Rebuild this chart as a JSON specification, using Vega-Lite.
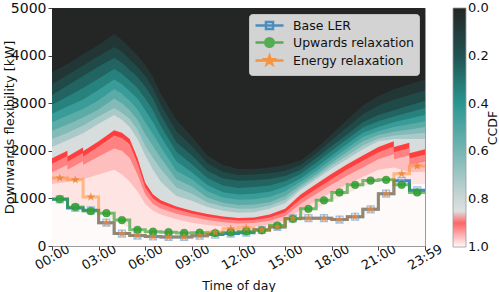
{
"$schema": "https://vega.github.io/schema/vega-lite/v6.json",
"width": 373, "height": 238,
"autosize": {"type": "none"},
"padding": {"left": 52, "top": 8, "right": 74, "bottom": 46},
"background": "white",
"config": {
  "font": "DejaVu Sans",
  "view": {"stroke": "#9a9a9a", "strokeWidth": 1},
  "axis": {"grid": false, "domain": false, "tickColor": "#444", "tickSize": 4, "labelColor": "#111", "titleColor": "#111", "labelFont": "DejaVu Sans", "titleFont": "DejaVu Sans", "labelFontSize": 13, "titleFontSize": 12.5, "titleFontWeight": "normal"},
  "legend": {"labelFont": "DejaVu Sans", "titleFont": "DejaVu Sans", "labelColor": "#111", "titleColor": "#111", "titleFontWeight": "normal"}
},
"datasets": {
"heat": [
{"c":0,"t":0,"y":5000},{"c":0,"t":24,"y":5000},
{"c":0.07,"t":0,"y":3650},{"c":0.07,"t":1,"y":3830},{"c":0.07,"t":2,"y":4030},{"c":0.07,"t":3,"y":4230},{"c":0.07,"t":4,"y":4450},{"c":0.07,"t":4.5,"y":4330},{"c":0.07,"t":5,"y":4170},{"c":0.07,"t":5.5,"y":4000},{"c":0.07,"t":6,"y":3800},{"c":0.07,"t":6.5,"y":3550},{"c":0.07,"t":7,"y":3200},{"c":0.07,"t":8,"y":2650},{"c":0.07,"t":9,"y":2300},{"c":0.07,"t":10,"y":1900},{"c":0.07,"t":11,"y":1700},{"c":0.07,"t":12,"y":1620},{"c":0.07,"t":13,"y":1620},{"c":0.07,"t":14,"y":1650},{"c":0.07,"t":15,"y":1700},{"c":0.07,"t":16,"y":1800},{"c":0.07,"t":17,"y":2050},{"c":0.07,"t":18,"y":2350},{"c":0.07,"t":19,"y":2650},{"c":0.07,"t":20,"y":2950},{"c":0.07,"t":21,"y":3150},{"c":0.07,"t":22,"y":3300},{"c":0.07,"t":23,"y":3400},{"c":0.07,"t":24,"y":3500},
{"c":0.16,"t":0,"y":3400},{"c":0.16,"t":1,"y":3590},{"c":0.16,"t":2,"y":3790},{"c":0.16,"t":3,"y":3990},{"c":0.16,"t":4,"y":4180},{"c":0.16,"t":4.5,"y":4080},{"c":0.16,"t":5,"y":3920},{"c":0.16,"t":5.5,"y":3760},{"c":0.16,"t":6,"y":3570},{"c":0.16,"t":6.5,"y":3320},{"c":0.16,"t":7,"y":2970},{"c":0.16,"t":8,"y":2410},{"c":0.16,"t":9,"y":2100},{"c":0.16,"t":10,"y":1740},{"c":0.16,"t":11,"y":1560},{"c":0.16,"t":12,"y":1490},{"c":0.16,"t":13,"y":1500},{"c":0.16,"t":14,"y":1530},{"c":0.16,"t":15,"y":1580},{"c":0.16,"t":16,"y":1700},{"c":0.16,"t":17,"y":1950},{"c":0.16,"t":18,"y":2220},{"c":0.16,"t":19,"y":2500},{"c":0.16,"t":20,"y":2770},{"c":0.16,"t":21,"y":2950},{"c":0.16,"t":22,"y":3070},{"c":0.16,"t":23,"y":3170},{"c":0.16,"t":24,"y":3270},
{"c":0.25,"t":0,"y":3170},{"c":0.25,"t":1,"y":3370},{"c":0.25,"t":2,"y":3570},{"c":0.25,"t":3,"y":3770},{"c":0.25,"t":4,"y":3950},{"c":0.25,"t":4.5,"y":3850},{"c":0.25,"t":5,"y":3700},{"c":0.25,"t":5.5,"y":3550},{"c":0.25,"t":6,"y":3350},{"c":0.25,"t":6.5,"y":3100},{"c":0.25,"t":7,"y":2750},{"c":0.25,"t":8,"y":2180},{"c":0.25,"t":9,"y":1900},{"c":0.25,"t":10,"y":1580},{"c":0.25,"t":11,"y":1420},{"c":0.25,"t":12,"y":1370},{"c":0.25,"t":13,"y":1380},{"c":0.25,"t":14,"y":1410},{"c":0.25,"t":15,"y":1470},{"c":0.25,"t":16,"y":1600},{"c":0.25,"t":17,"y":1850},{"c":0.25,"t":18,"y":2100},{"c":0.25,"t":19,"y":2350},{"c":0.25,"t":20,"y":2600},{"c":0.25,"t":21,"y":2750},{"c":0.25,"t":22,"y":2850},{"c":0.25,"t":23,"y":2950},{"c":0.25,"t":24,"y":3050},
{"c":0.34,"t":0,"y":2970},{"c":0.34,"t":1,"y":3140},{"c":0.34,"t":2,"y":3320},{"c":0.34,"t":3,"y":3520},{"c":0.34,"t":4,"y":3720},{"c":0.34,"t":4.5,"y":3620},{"c":0.34,"t":5,"y":3470},{"c":0.34,"t":5.5,"y":3320},{"c":0.34,"t":6,"y":3100},{"c":0.34,"t":6.5,"y":2850},{"c":0.34,"t":7,"y":2520},{"c":0.34,"t":8,"y":1980},{"c":0.34,"t":9,"y":1720},{"c":0.34,"t":10,"y":1430},{"c":0.34,"t":11,"y":1270},{"c":0.34,"t":12,"y":1220},{"c":0.34,"t":13,"y":1240},{"c":0.34,"t":14,"y":1270},{"c":0.34,"t":15,"y":1360},{"c":0.34,"t":16,"y":1510},{"c":0.34,"t":17,"y":1750},{"c":0.34,"t":18,"y":2000},{"c":0.34,"t":19,"y":2250},{"c":0.34,"t":20,"y":2490},{"c":0.34,"t":21,"y":2620},{"c":0.34,"t":22,"y":2720},{"c":0.34,"t":23,"y":2810},{"c":0.34,"t":24,"y":2900},
{"c":0.44,"t":0,"y":2780},{"c":0.44,"t":1,"y":2930},{"c":0.44,"t":2,"y":3080},{"c":0.44,"t":3,"y":3280},{"c":0.44,"t":4,"y":3500},{"c":0.44,"t":4.5,"y":3400},{"c":0.44,"t":5,"y":3250},{"c":0.44,"t":5.5,"y":3100},{"c":0.44,"t":6,"y":2850},{"c":0.44,"t":6.5,"y":2600},{"c":0.44,"t":7,"y":2300},{"c":0.44,"t":8,"y":1780},{"c":0.44,"t":9,"y":1550},{"c":0.44,"t":10,"y":1280},{"c":0.44,"t":11,"y":1130},{"c":0.44,"t":12,"y":1080},{"c":0.44,"t":13,"y":1100},{"c":0.44,"t":14,"y":1140},{"c":0.44,"t":15,"y":1250},{"c":0.44,"t":16,"y":1420},{"c":0.44,"t":17,"y":1650},{"c":0.44,"t":18,"y":1900},{"c":0.44,"t":19,"y":2150},{"c":0.44,"t":20,"y":2380},{"c":0.44,"t":21,"y":2500},{"c":0.44,"t":22,"y":2600},{"c":0.44,"t":23,"y":2680},{"c":0.44,"t":24,"y":2750},
{"c":0.53,"t":0,"y":2600},{"c":0.53,"t":1,"y":2740},{"c":0.53,"t":2,"y":2880},{"c":0.53,"t":3,"y":3060},{"c":0.53,"t":4,"y":3300},{"c":0.53,"t":4.5,"y":3200},{"c":0.53,"t":5,"y":3050},{"c":0.53,"t":5.5,"y":2870},{"c":0.53,"t":6,"y":2600},{"c":0.53,"t":6.5,"y":2350},{"c":0.53,"t":7,"y":2080},{"c":0.53,"t":8,"y":1580},{"c":0.53,"t":9,"y":1400},{"c":0.53,"t":10,"y":1150},{"c":0.53,"t":11,"y":1020},{"c":0.53,"t":12,"y":970},{"c":0.53,"t":13,"y":980},{"c":0.53,"t":14,"y":1030},{"c":0.53,"t":15,"y":1150},{"c":0.53,"t":16,"y":1350},{"c":0.53,"t":17,"y":1570},{"c":0.53,"t":18,"y":1820},{"c":0.53,"t":19,"y":2060},{"c":0.53,"t":20,"y":2290},{"c":0.53,"t":21,"y":2410},{"c":0.53,"t":22,"y":2500},{"c":0.53,"t":23,"y":2560},{"c":0.53,"t":24,"y":2620},
{"c":0.63,"t":0,"y":2420},{"c":0.63,"t":1,"y":2550},{"c":0.63,"t":2,"y":2700},{"c":0.63,"t":3,"y":2870},{"c":0.63,"t":4,"y":3100},{"c":0.63,"t":4.5,"y":3000},{"c":0.63,"t":5,"y":2850},{"c":0.63,"t":5.5,"y":2650},{"c":0.63,"t":6,"y":2350},{"c":0.63,"t":6.5,"y":2100},{"c":0.63,"t":7,"y":1850},{"c":0.63,"t":8,"y":1400},{"c":0.63,"t":9,"y":1250},{"c":0.63,"t":10,"y":1020},{"c":0.63,"t":11,"y":910},{"c":0.63,"t":12,"y":860},{"c":0.63,"t":13,"y":870},{"c":0.63,"t":14,"y":920},{"c":0.63,"t":15,"y":1050},{"c":0.63,"t":16,"y":1280},{"c":0.63,"t":17,"y":1500},{"c":0.63,"t":18,"y":1750},{"c":0.63,"t":19,"y":1980},{"c":0.63,"t":20,"y":2200},{"c":0.63,"t":21,"y":2330},{"c":0.63,"t":22,"y":2400},{"c":0.63,"t":23,"y":2450},{"c":0.63,"t":24,"y":2500},
{"c":0.72,"t":0,"y":2250},{"c":0.72,"t":1,"y":2380},{"c":0.72,"t":2,"y":2530},{"c":0.72,"t":3,"y":2720},{"c":0.72,"t":4,"y":2900},{"c":0.72,"t":4.5,"y":2800},{"c":0.72,"t":5,"y":2670},{"c":0.72,"t":5.5,"y":2450},{"c":0.72,"t":6,"y":2100},{"c":0.72,"t":6.5,"y":1850},{"c":0.72,"t":7,"y":1620},{"c":0.72,"t":8,"y":1230},{"c":0.72,"t":9,"y":1100},{"c":0.72,"t":10,"y":920},{"c":0.72,"t":11,"y":830},{"c":0.72,"t":12,"y":780},{"c":0.72,"t":13,"y":790},{"c":0.72,"t":14,"y":850},{"c":0.72,"t":15,"y":970},{"c":0.72,"t":16,"y":1230},{"c":0.72,"t":17,"y":1450},{"c":0.72,"t":18,"y":1690},{"c":0.72,"t":19,"y":1900},{"c":0.72,"t":20,"y":2110},{"c":0.72,"t":21,"y":2260},{"c":0.72,"t":22,"y":2320},{"c":0.72,"t":23,"y":2350},{"c":0.72,"t":24,"y":2380},
{"c":0.83,"t":0,"y":2080},{"c":0.83,"t":1,"y":2220},{"c":0.83,"t":2,"y":2370},{"c":0.83,"t":3,"y":2570},{"c":0.83,"t":4,"y":2750},{"c":0.83,"t":4.5,"y":2650},{"c":0.83,"t":5,"y":2500},{"c":0.83,"t":5.5,"y":2250},{"c":0.83,"t":6,"y":1900},{"c":0.83,"t":6.5,"y":1600},{"c":0.83,"t":7,"y":1350},{"c":0.83,"t":8,"y":1050},{"c":0.83,"t":9,"y":950},{"c":0.83,"t":10,"y":820},{"c":0.83,"t":11,"y":740},{"c":0.83,"t":12,"y":700},{"c":0.83,"t":13,"y":710},{"c":0.83,"t":14,"y":780},{"c":0.83,"t":15,"y":900},{"c":0.83,"t":16,"y":1180},{"c":0.83,"t":17,"y":1400},{"c":0.83,"t":18,"y":1630},{"c":0.83,"t":19,"y":1830},{"c":0.83,"t":20,"y":2030},{"c":0.83,"t":21,"y":2200},{"c":0.83,"t":22,"y":2250},{"c":0.83,"t":23,"y":2250},{"c":0.83,"t":24,"y":2250},
{"c":0.875,"t":0,"y":1845},{"c":0.875,"t":0.99,"y":2000},{"c":0.875,"t":1,"y":1880},{"c":0.875,"t":1.99,"y":2070},{"c":0.875,"t":2,"y":1990},{"c":0.875,"t":3,"y":2200},{"c":0.875,"t":4,"y":2430},{"c":0.875,"t":4.5,"y":2380},{"c":0.875,"t":5,"y":2250},{"c":0.875,"t":5.5,"y":1850},{"c":0.875,"t":6,"y":1330},{"c":0.875,"t":6.5,"y":1080},{"c":0.875,"t":7,"y":960},{"c":0.875,"t":8,"y":830},{"c":0.875,"t":9,"y":740},{"c":0.875,"t":10,"y":670},{"c":0.875,"t":11,"y":620},{"c":0.875,"t":12,"y":590},{"c":0.875,"t":13,"y":600},{"c":0.875,"t":14,"y":660},{"c":0.875,"t":15,"y":780},{"c":0.875,"t":16,"y":1080},{"c":0.875,"t":17,"y":1300},{"c":0.875,"t":18,"y":1520},{"c":0.875,"t":19,"y":1720},{"c":0.875,"t":20,"y":1900},{"c":0.875,"t":21,"y":2080},{"c":0.875,"t":21.99,"y":2200},{"c":0.875,"t":22,"y":2080},{"c":0.875,"t":22.99,"y":2170},{"c":0.875,"t":23,"y":1950},{"c":0.875,"t":24,"y":2030},
{"c":0.92,"t":0,"y":1730},{"c":0.92,"t":0.99,"y":1890},{"c":0.92,"t":1,"y":1770},{"c":0.92,"t":1.99,"y":1960},{"c":0.92,"t":2,"y":1880},{"c":0.92,"t":3,"y":2090},{"c":0.92,"t":4,"y":2320},{"c":0.92,"t":4.5,"y":2270},{"c":0.92,"t":5,"y":2140},{"c":0.92,"t":5.5,"y":1740},{"c":0.92,"t":6,"y":1230},{"c":0.92,"t":6.5,"y":1000},{"c":0.92,"t":7,"y":890},{"c":0.92,"t":8,"y":770},{"c":0.92,"t":9,"y":685},{"c":0.92,"t":10,"y":615},{"c":0.92,"t":11,"y":565},{"c":0.92,"t":12,"y":535},{"c":0.92,"t":13,"y":545},{"c":0.92,"t":14,"y":600},{"c":0.92,"t":15,"y":710},{"c":0.92,"t":16,"y":990},{"c":0.92,"t":17,"y":1200},{"c":0.92,"t":18,"y":1410},{"c":0.92,"t":19,"y":1610},{"c":0.92,"t":20,"y":1790},{"c":0.92,"t":21,"y":1970},{"c":0.92,"t":21.99,"y":2090},{"c":0.92,"t":22,"y":1970},{"c":0.92,"t":22.99,"y":2060},{"c":0.92,"t":23,"y":1840},{"c":0.92,"t":24,"y":1920},
{"c":0.96,"t":0,"y":1550},{"c":0.96,"t":0.99,"y":1700},{"c":0.96,"t":1,"y":1600},{"c":0.96,"t":1.99,"y":1780},{"c":0.96,"t":2,"y":1700},{"c":0.96,"t":3,"y":1880},{"c":0.96,"t":4,"y":2050},{"c":0.96,"t":4.5,"y":2000},{"c":0.96,"t":5,"y":1850},{"c":0.96,"t":5.5,"y":1500},{"c":0.96,"t":6,"y":1080},{"c":0.96,"t":6.5,"y":880},{"c":0.96,"t":7,"y":790},{"c":0.96,"t":8,"y":680},{"c":0.96,"t":9,"y":610},{"c":0.96,"t":10,"y":545},{"c":0.96,"t":11,"y":500},{"c":0.96,"t":12,"y":475},{"c":0.96,"t":13,"y":485},{"c":0.96,"t":14,"y":530},{"c":0.96,"t":15,"y":630},{"c":0.96,"t":16,"y":890},{"c":0.96,"t":17,"y":1090},{"c":0.96,"t":18,"y":1290},{"c":0.96,"t":19,"y":1480},{"c":0.96,"t":20,"y":1650},{"c":0.96,"t":21,"y":1820},{"c":0.96,"t":21.99,"y":1930},{"c":0.96,"t":22,"y":1820},{"c":0.96,"t":22.99,"y":1900},{"c":0.96,"t":23,"y":1700},{"c":0.96,"t":24,"y":1770},
{"c":0.985,"t":0,"y":1300},{"c":0.985,"t":1,"y":1350},{"c":0.985,"t":2,"y":1400},{"c":0.985,"t":3,"y":1500},{"c":0.985,"t":4,"y":1600},{"c":0.985,"t":4.5,"y":1500},{"c":0.985,"t":5,"y":1350},{"c":0.985,"t":5.5,"y":1150},{"c":0.985,"t":6,"y":880},{"c":0.985,"t":6.5,"y":740},{"c":0.985,"t":7,"y":660},{"c":0.985,"t":8,"y":560},{"c":0.985,"t":9,"y":490},{"c":0.985,"t":10,"y":440},{"c":0.985,"t":11,"y":410},{"c":0.985,"t":12,"y":400},{"c":0.985,"t":13,"y":410},{"c":0.985,"t":14,"y":450},{"c":0.985,"t":15,"y":540},{"c":0.985,"t":16,"y":760},{"c":0.985,"t":17,"y":950},{"c":0.985,"t":18,"y":1130},{"c":0.985,"t":19,"y":1300},{"c":0.985,"t":20,"y":1450},{"c":0.985,"t":21,"y":1600},{"c":0.985,"t":22,"y":1650},{"c":0.985,"t":23,"y":1550},{"c":0.985,"t":24,"y":1560},
{"c":1,"t":0,"y":1050},{"c":1,"t":1,"y":900},{"c":1,"t":2,"y":850},{"c":1,"t":3,"y":700},{"c":1,"t":4,"y":550},{"c":1,"t":4.5,"y":450},{"c":1,"t":5,"y":380},{"c":1,"t":5.5,"y":340},{"c":1,"t":6,"y":320},{"c":1,"t":6.5,"y":300},{"c":1,"t":7,"y":290},{"c":1,"t":8,"y":270},{"c":1,"t":9,"y":270},{"c":1,"t":10,"y":280},{"c":1,"t":11,"y":290},{"c":1,"t":12,"y":300},{"c":1,"t":13,"y":320},{"c":1,"t":14,"y":360},{"c":1,"t":15,"y":450},{"c":1,"t":16,"y":620},{"c":1,"t":17,"y":780},{"c":1,"t":18,"y":950},{"c":1,"t":19,"y":1100},{"c":1,"t":20,"y":1250},{"c":1,"t":21,"y":1350},{"c":1,"t":22,"y":1400},{"c":1,"t":23,"y":1300},{"c":1,"t":24,"y":1300}
],
"lines": [
{"s":"Base LER","h":0,"v":980},{"s":"Base LER","h":1,"v":800},{"s":"Base LER","h":2,"v":750},{"s":"Base LER","h":3,"v":490},{"s":"Base LER","h":4,"v":260},{"s":"Base LER","h":5,"v":220},{"s":"Base LER","h":6,"v":200},{"s":"Base LER","h":7,"v":190},{"s":"Base LER","h":8,"v":190},{"s":"Base LER","h":9,"v":215},{"s":"Base LER","h":10,"v":240},{"s":"Base LER","h":11,"v":260},{"s":"Base LER","h":12,"v":280},{"s":"Base LER","h":13,"v":340},{"s":"Base LER","h":14,"v":400},{"s":"Base LER","h":15,"v":580},{"s":"Base LER","h":16,"v":585},{"s":"Base LER","h":17,"v":585},{"s":"Base LER","h":18,"v":555},{"s":"Base LER","h":19,"v":615},{"s":"Base LER","h":20,"v":770},{"s":"Base LER","h":21,"v":1100},{"s":"Base LER","h":22,"v":1370},{"s":"Base LER","h":23,"v":1170},{"s":"Base LER","h":24,"v":1170},
{"s":"Upwards relaxation","h":0,"v":985},{"s":"Upwards relaxation","h":1,"v":820},{"s":"Upwards relaxation","h":2,"v":735},{"s":"Upwards relaxation","h":3,"v":690},{"s":"Upwards relaxation","h":4,"v":545},{"s":"Upwards relaxation","h":5,"v":340},{"s":"Upwards relaxation","h":6,"v":300},{"s":"Upwards relaxation","h":7,"v":290},{"s":"Upwards relaxation","h":8,"v":275},{"s":"Upwards relaxation","h":9,"v":280},{"s":"Upwards relaxation","h":10,"v":270},{"s":"Upwards relaxation","h":11,"v":285},{"s":"Upwards relaxation","h":12,"v":305},{"s":"Upwards relaxation","h":13,"v":330},{"s":"Upwards relaxation","h":14,"v":430},{"s":"Upwards relaxation","h":15,"v":570},{"s":"Upwards relaxation","h":16,"v":780},{"s":"Upwards relaxation","h":17,"v":960},{"s":"Upwards relaxation","h":18,"v":1125},{"s":"Upwards relaxation","h":19,"v":1285},{"s":"Upwards relaxation","h":20,"v":1375},{"s":"Upwards relaxation","h":21,"v":1390},{"s":"Upwards relaxation","h":22,"v":1285},{"s":"Upwards relaxation","h":23,"v":1125},{"s":"Upwards relaxation","h":24,"v":1125},
{"s":"Energy relaxation","h":0,"v":1430},{"s":"Energy relaxation","h":1,"v":1390},{"s":"Energy relaxation","h":2,"v":1030},{"s":"Energy relaxation","h":3,"v":490},{"s":"Energy relaxation","h":4,"v":260},{"s":"Energy relaxation","h":5,"v":220},{"s":"Energy relaxation","h":6,"v":200},{"s":"Energy relaxation","h":7,"v":190},{"s":"Energy relaxation","h":8,"v":190},{"s":"Energy relaxation","h":9,"v":215},{"s":"Energy relaxation","h":10,"v":290},{"s":"Energy relaxation","h":11,"v":360},{"s":"Energy relaxation","h":12,"v":380},{"s":"Energy relaxation","h":13,"v":340},{"s":"Energy relaxation","h":14,"v":400},{"s":"Energy relaxation","h":15,"v":580},{"s":"Energy relaxation","h":16,"v":585},{"s":"Energy relaxation","h":17,"v":585},{"s":"Energy relaxation","h":18,"v":555},{"s":"Energy relaxation","h":19,"v":615},{"s":"Energy relaxation","h":20,"v":770},{"s":"Energy relaxation","h":21,"v":1100},{"s":"Energy relaxation","h":22,"v":1520},{"s":"Energy relaxation","h":23,"v":1680},{"s":"Energy relaxation","h":24,"v":1680}
]
},
"layer": [
{
 "data": {"name": "heat"},
 "mark": {"type": "area", "interpolate": "linear"},
 "encoding": {
  "x": {"field": "t", "type": "quantitative", "title": "Time of day", "scale": {"domain": [0, 24], "nice": false, "zero": false},
        "axis": {"values": [0, 3, 6, 9, 12, 15, 18, 21, 23.983], "labelExpr": "datum.value > 23 ? '23:59' : (datum.value < 10 ? '0' : '') + datum.value + ':00'", "labelAngle": -30, "labelAlign": "center", "labelBaseline": "middle", "labelPadding": 7, "titlePadding": 7, "labelOverlap": false, "labelFlush": false}},
  "y": {"field": "y", "type": "quantitative", "stack": null, "title": "Downwards flexibility [kW]", "scale": {"domain": [0, 5000], "nice": false},
        "axis": {"values": [0, 1000, 2000, 3000, 4000, 5000], "format": "d", "labelPadding": 2, "labelFontSize": 14, "titleX": -36, "titleFontSize": 13}},
  "fill": {"field": "c", "type": "quantitative",
           "scale": {"type": "linear", "domain": [1, 0.861, 0.859, 0.8, 0.6, 0.4, 0.2, 0], "range": ["#fffafa", "#ff2a2a", "#e0e2e2", "#cbd7d6", "#76b6b3", "#2a9691", "#1f5351", "#242626"], "interpolate": "rgb", "zero": false, "nice": false},
           "legend": {"orient": "right", "offset": 22, "direction": "vertical", "gradientLength": 239, "gradientThickness": 13, "values": [0, 0.2, 0.4, 0.6, 0.8, 1], "format": ".1f", "labelFontSize": 13, "labelOffset": 2, "labelOverlap": false, "title": "CCDF", "titleOrient": "right", "titleAnchor": "middle", "titleFontSize": 12.5, "titlePadding": 4, "gradientStrokeColor": "#999", "gradientStrokeWidth": 0.8,
                      "encode": {"title": {"update": {"angle": {"value": -90}, "align": {"value": "center"}, "baseline": {"value": "middle"}}}, "labels": {"update": {"baseline": {"value": "middle"}}}}}},
  "detail": {"field": "c", "type": "quantitative"}
 }
},
{
 "data": {"name": "lines"},
 "mark": {"type": "line", "interpolate": "step-after", "strokeWidth": 3, "strokeCap": "butt"},
 "encoding": {
  "x": {"field": "h", "type": "quantitative", "title": "Time of day", "scale": {"domain": [0, 24], "nice": false, "zero": false}},
  "y": {"field": "v", "type": "quantitative", "title": "Downwards flexibility [kW]", "scale": {"domain": [0, 5000], "nice": false}},
  "stroke": {"field": "s", "type": "nominal", "sort": null,
             "scale": {"domain": ["Base LER", "Upwards relaxation", "Energy relaxation"], "range": ["#1f77b4", "#2ca02c", "#ff7f0e"]},
             "legend": {"orient": "top-right", "offset": 6, "title": null, "symbolSize": 100, "symbolStrokeWidth": 2.5, "labelFontSize": 12.5, "labelOffset": 26, "rowPadding": -1, "padding": 5, "fillColor": "rgba(255,255,255,0.8)", "strokeColor": "rgba(200,200,200,0.9)", "cornerRadius": 3,
                        "encode": {"symbols": {"update": {
                          "shape": {"signal": "datum.value === 'Base LER' ? 'M-1,0H4.6M1.1,-0.7H2.5V0.7H1.1Z' : datum.value === 'Upwards relaxation' ? 'M-1,0H4.6M2.65,0A0.85,0.85,0,1,1,0.95,0A0.85,0.85,0,1,1,2.65,0Z' : 'M-1,0H4.6M1.8,-0.9L2.012,-0.292L2.656,-0.278L2.142,0.112L2.329,0.728L1.8,0.36L1.271,0.728L1.458,0.112L0.944,-0.278L1.589,-0.292Z'"},
                          "fill": {"signal": "datum.value === 'Base LER' ? '#cfe0f2' : datum.value === 'Upwards relaxation' ? '#2ca02c' : '#ff7f0e'"},
                          "opacity": {"value": 0.75}}}}}},
  "strokeOpacity": {"field": "s", "type": "nominal", "scale": {"domain": ["Base LER", "Upwards relaxation", "Energy relaxation"], "range": [0.85, 0.45, 0.4]}, "legend": null}
 }
},
{
 "data": {"name": "lines"},
 "transform": [{"filter": "datum.s === 'Base LER' && datum.h < 24"}],
 "mark": {"type": "point", "shape": "square", "size": 49, "filled": true, "fill": "#aec7e8", "fillOpacity": 0.3, "stroke": "#4a90d0", "strokeOpacity": 0.5, "strokeWidth": 1.2, "xOffset": 7.77},
 "encoding": {
  "x": {"field": "h", "type": "quantitative", "title": "Time of day", "scale": {"domain": [0, 24], "nice": false, "zero": false}},
  "y": {"field": "v", "type": "quantitative", "title": "Downwards flexibility [kW]", "scale": {"domain": [0, 5000], "nice": false}}
 }
},
{
 "data": {"name": "lines"},
 "transform": [{"filter": "datum.s === 'Upwards relaxation' && datum.h < 24"}],
 "mark": {"type": "point", "shape": "circle", "size": 60, "filled": true, "fill": "#2ca02c", "fillOpacity": 0.85, "stroke": "#2a8a2a", "strokeOpacity": 0.6, "strokeWidth": 0.6, "xOffset": 7.77},
 "encoding": {
  "x": {"field": "h", "type": "quantitative", "title": "Time of day", "scale": {"domain": [0, 24], "nice": false, "zero": false}},
  "y": {"field": "v", "type": "quantitative", "title": "Downwards flexibility [kW]", "scale": {"domain": [0, 5000], "nice": false}}
 }
},
{
 "data": {"name": "lines"},
 "transform": [{"filter": "datum.s === 'Energy relaxation' && datum.h < 24"}],
 "mark": {"type": "point", "shape": "M0,-1L0.235,-0.324L0.951,-0.309L0.38,0.124L0.588,0.809L0,0.4L-0.588,0.809L-0.38,0.124L-0.951,-0.309L-0.235,-0.324Z", "size": 85, "filled": true, "fill": "#e8802e", "fillOpacity": 0.75, "strokeWidth": 0, "xOffset": 7.77},
 "encoding": {
  "x": {"field": "h", "type": "quantitative", "title": "Time of day", "scale": {"domain": [0, 24], "nice": false, "zero": false}},
  "y": {"field": "v", "type": "quantitative", "title": "Downwards flexibility [kW]", "scale": {"domain": [0, 5000], "nice": false}}
 }
}
]
}
